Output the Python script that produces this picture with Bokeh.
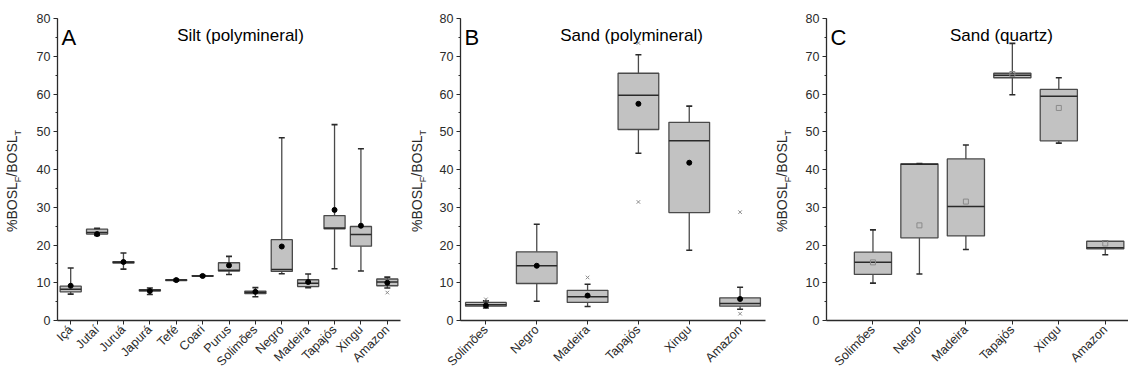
import numpy as np
from math import pi
from bokeh.plotting import figure
from bokeh.layouts import row
from bokeh.models import Range1d, FixedTicker, SingleIntervalTicker, Label, Div
from bokeh.embed import file_html
from bokeh.resources import INLINE

FONT = "Liberation Sans"

# ---------------- Panel A: Silt (polymineral) ----------------
cats_a = ["Içá", "Jutaí", "Juruá", "Japurá", "Tefé", "Coari", "Purus",
          "Solimões", "Negro", "Madeira", "Tapajós", "Xingu", "Amazon"]
lo_a   = [7.0, 22.5, 13.6, 6.9, 10.5, 11.7, 12.2, 6.3, 12.4, 8.7, 13.7, 13.1, 8.6]
q1_a   = [7.6, 22.9, 15.2, 7.8, 10.6, 11.7, 13.1, 7.1, 13.0, 9.0, 24.3, 19.7, 9.2]
med_a  = [8.3, 23.3, 15.4, 8.0, 10.7, 11.8, 13.3, 7.5, 13.5, 9.9, 24.5, 22.8, 10.2]
q3_a   = [9.1, 24.2, 15.6, 8.2, 10.8, 11.9, 15.3, 7.8, 21.4, 10.8, 27.8, 24.9, 11.0]
hi_a   = [13.9, 24.4, 17.9, 8.6, 10.9, 12.0, 17.0, 8.7, 48.4, 12.3, 51.9, 45.5, 11.5]
mean_a = [9.2, 22.9, 15.5, 7.8, 10.7, 11.8, 14.6, 7.6, 19.6, 10.2, 29.3, 25.1, 10.0]
out_cat_a = ["Amazon"]
out_val_a = [7.4]

# ---------------- Panel B: Sand (polymineral) ----------------
cats_b = ["Solimões", "Negro", "Madeira", "Tapajós", "Xingu", "Amazon"]
lo_b   = [3.3, 5.1, 3.7, 44.3, 18.6, 3.0]
q1_b   = [3.8, 9.8, 4.8, 50.6, 28.6, 3.8]
med_b  = [4.2, 14.5, 6.3, 59.7, 47.6, 4.5]
q3_b   = [4.8, 18.2, 8.0, 65.5, 52.5, 6.0]
hi_b   = [5.2, 25.5, 9.6, 70.4, 56.8, 8.8]
mean_b = [4.0, 14.5, 6.6, 57.4, 41.8, 5.7]
out_cat_b = ["Solimões", "Madeira", "Tapajós", "Tapajós", "Amazon", "Amazon"]
out_val_b = [5.6, 11.4, 73.5, 31.4, 28.7, 1.8]

# ---------------- Panel C: Sand (quartz) ----------------
cats_c = ["Solimões", "Negro", "Madeira", "Tapajós", "Xingu", "Amazon"]
lo_c   = [9.9, 12.3, 18.8, 59.8, 47.0, 17.4]
q1_c   = [12.2, 21.9, 22.4, 64.3, 47.6, 19.0]
med_c  = [15.4, 41.4, 30.2, 65.0, 59.4, 19.3]
q3_c   = [18.1, 41.5, 42.8, 65.5, 61.2, 21.0]
hi_c   = [24.0, 41.6, 46.5, 73.4, 64.3, 21.0]
mean_c = [15.4, 25.2, 31.5, 65.3, 56.3, 20.4]
out_cat_c = []
out_val_c = []

BOX_FILL = "#c2c2c2"
BOX_LINE = "#4a4a4a"
DARK = "#2a2a2a"
GREY = "#8a8a8a"
H = 376


def ylabel_div(width, center_y):
    html = (
        f'<div style="position:relative;width:{width}px;height:{H}px;">'
        f'<div style="position:absolute;left:50%;top:{center_y}px;'
        'transform:translate(-50%,-50%) rotate(-90deg);white-space:nowrap;'
        f"font-family:'{FONT}';font-size:14px;line-height:14px;color:{DARK};\">"
        '%BOSL<sub style="font-size:9px;">F</sub>/BOSL<sub style="font-size:9px;">T</sub>'
        '</div></div>'
    )
    return Div(text=html, width=width, height=H, margin=0)


def panel(cats, lo, q1, med, q3, hi, mean, out_cat, out_val, letter, title,
          width, left, right, xr, title_x, open_mean):
    n = len(cats)
    x = np.arange(1, n + 1)
    lo, q1, med, q3, hi, mean = map(np.asarray, (lo, q1, med, q3, hi, mean))
    p = figure(width=width, height=H, x_range=xr, y_range=Range1d(0, 80),
               output_backend="svg", toolbar_location=None,
               min_border_left=left, min_border_right=right,
               min_border_top=18, min_border_bottom=10)
    p.outline_line_color = None
    p.xgrid.grid_line_color = None
    p.ygrid.grid_line_color = None

    # whiskers
    p.segment(x0=x, y0=q3, x1=x, y1=hi, line_color=BOX_LINE, line_width=1.3)
    p.segment(x0=x, y0=q1, x1=x, y1=lo, line_color=BOX_LINE, line_width=1.3)
    # boxes
    p.vbar(x=x, width=0.8, bottom=q1, top=q3, fill_color=BOX_FILL,
           line_color=BOX_LINE, line_width=1.3)
    # medians
    p.segment(x0=x - 0.4, y0=med, x1=x + 0.4, y1=med, line_color=DARK, line_width=1.5)
    # caps
    p.scatter(x=x, y=hi, marker="dash", size=6, line_color=DARK, line_width=1.6)
    p.scatter(x=x, y=lo, marker="dash", size=6, line_color=DARK, line_width=1.6)
    # means
    if open_mean:
        p.scatter(x=x, y=mean, marker="square", size=5, fill_color=None,
                  line_color=GREY, line_width=1)
    else:
        p.scatter(x=x, y=mean, marker="circle", size=5, fill_color="black",
                  line_color="black")
    # outliers
    if out_cat:
        ox = [cats.index(c) + 1 for c in out_cat]
        p.scatter(x=ox, y=out_val, marker="x", size=5, line_color=GREY, line_width=1)

    # axes
    p.xaxis.ticker = FixedTicker(ticks=[int(v) for v in x])
    p.xaxis.major_label_overrides = {int(v): c for v, c in zip(x, cats)}
    p.xaxis.major_label_orientation = pi / 4
    p.yaxis.ticker = SingleIntervalTicker(interval=10, num_minor_ticks=2)
    for ax in (p.xaxis[0], p.yaxis[0]):
        ax.axis_line_color = DARK
        ax.axis_line_width = 1.3
        ax.major_tick_line_color = DARK
        ax.major_tick_in = 0
        ax.major_tick_out = 4
        ax.minor_tick_in = 0
        ax.minor_tick_out = 2
        ax.major_label_text_font = FONT
        ax.major_label_text_font_size = "12.5px"
        ax.major_label_text_color = DARK
        ax.major_label_standoff = 3
    p.xaxis.minor_tick_line_color = None
    p.yaxis.minor_tick_line_color = DARK

    p.add_layout(Label(x=4, y=75.0, x_units="screen", y_units="data", text=letter,
                       text_font=FONT, text_font_size="22px", text_color="black",
                       text_align="left", text_baseline="alphabetic"))
    p.add_layout(Label(x=title_x, y=75.5, x_units="screen", y_units="data", text=title,
                       text_font=FONT, text_font_size="17px", text_color="black",
                       text_align="center", text_baseline="alphabetic"))
    return p


pa = panel(cats_a, lo_a, q1_a, med_a, q3_a, hi_a, mean_a, out_cat_a, out_val_a,
           "A", "Silt (polymineral)", 375, 27, 5, Range1d(0.5, 13.5), 183, False)
pb = panel(cats_b, lo_b, q1_b, med_b, q3_b, hi_b, mean_b, out_cat_b, out_val_b,
           "B", "Sand (polymineral)", 335, 25, 5, Range1d(0.5, 6.5), 171, False)
pc = panel(cats_c, lo_c, q1_c, med_c, q3_c, hi_c, mean_c, out_cat_c, out_val_c,
           "C", "Sand (quartz)", 328, 26, 0, Range1d(0, 6.5), 175, True)

layout = row(ylabel_div(30, 181), pa, ylabel_div(30, 181), pb, ylabel_div(30, 181), pc)
open("out.html", "w").write(file_html(layout, INLINE))
